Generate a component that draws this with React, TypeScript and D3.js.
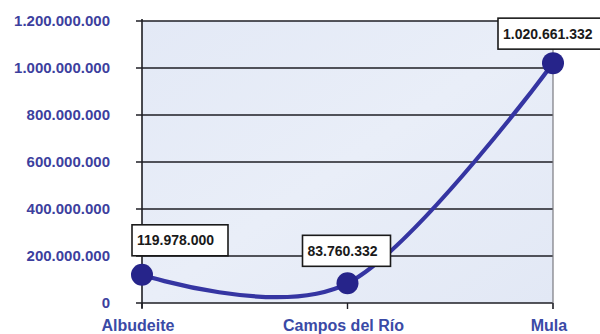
import React from "react";
import * as d3 from "d3";

const categories = ["Albudeite", "Campos del Río", "Mula"];
const values = [119978000, 83760332, 1020661332];
const valueLabels = ["119.978.000", "83.760.332", "1.020.661.332"];
const yTicks = [0, 200000000, 400000000, 600000000, 800000000, 1000000000, 1200000000];
const yTickLabels = ["0", "200.000.000", "400.000.000", "600.000.000", "800.000.000", "1.000.000.000", "1.200.000.000"];

// label box layout offsets (relative to point): dx of box left, box width, dy of box bottom
const labelBoxes = [
  { dx: -10, w: 96, dy: -19 },
  { dx: -45, w: 88, dy: -17 },
  { dx: -55, w: 104, dy: -14 },
];

const W = 600, H = 334;
const left = 142, right = 553, top = 21, bottom = 303;
const FONT = "'Liberation Sans', Arial, Helvetica, sans-serif";

export default function App() {
  const x = d3.scalePoint<string>().domain(categories).range([left, right]).padding(0);
  const y = d3.scaleLinear().domain([0, 1200000000]).range([bottom, top]);
  const pts: [number, number][] = categories.map((c, i) => [x(c) as number, y(values[i])]);
  const line = d3.line().curve(d3.curveCardinal.tension(0))(pts) || "";
  const labelColor = "#3d3f9e";

  return (
    <svg width={W} height={H} style={{ position: "fixed", left: 0, top: 0, background: "#fff" }} fontFamily={FONT}>
      <defs>
        <linearGradient id="bg" x1="0" y1="0" x2="1" y2="1">
          <stop offset="0" stopColor="#e3e9f6" />
          <stop offset="0.5" stopColor="#e9eef8" />
          <stop offset="1" stopColor="#e2e8f5" />
        </linearGradient>
      </defs>
      <rect x={left} y={top} width={right - left} height={bottom - top} fill="url(#bg)" />
      {yTicks.map((t, i) => (
        <g key={t}>
          <line x1={left - 6} x2={right} y1={y(t)} y2={y(t)} stroke="#1e1e24" strokeWidth={1.6} />
          <text x={110} y={y(t)} dy="0.36em" textAnchor="end" fontSize={15} fontWeight="bold" fill={labelColor}>
            {yTickLabels[i]}
          </text>
        </g>
      ))}
      <line x1={left} x2={left} y1={top - 2} y2={bottom + 5} stroke="#1e1e24" strokeWidth={1.6} />
      <line x1={right} x2={right} y1={top} y2={bottom + 6} stroke="#7a7a80" strokeWidth={1.2} />
      {categories.map((c) => (
        <g key={c}>
          <line x1={x(c)} x2={x(c)} y1={bottom} y2={bottom + 6} stroke="#1e1e24" strokeWidth={1.4} />
          <text x={(x(c) as number) - 4} y={331} textAnchor="middle" fontSize={16} fontWeight="bold" fill="#3a4aa6">
            {c}
          </text>
        </g>
      ))}
      <path d={line} fill="none" stroke="#3535a2" strokeWidth={4.2} strokeLinecap="round" />
      {pts.map(([px, py], i) => (
        <circle key={i} cx={px} cy={py} r={11} fill="#26248a" />
      ))}
      {pts.map(([px, py], i) => {
        const b = labelBoxes[i];
        const bx = px + b.dx;
        const by = py + b.dy - 31;
        return (
          <g key={"l" + i}>
            <rect x={bx} y={by} width={b.w} height={31} fill="#fff" stroke="#1a1a1a" strokeWidth={1.6} />
            <text x={bx + 5} y={by + 15.5} dy="0.36em" fontSize={14} fontWeight="bold" fill="#1a1a1a">
              {valueLabels[i]}
            </text>
          </g>
        );
      })}
    </svg>
  );
}
